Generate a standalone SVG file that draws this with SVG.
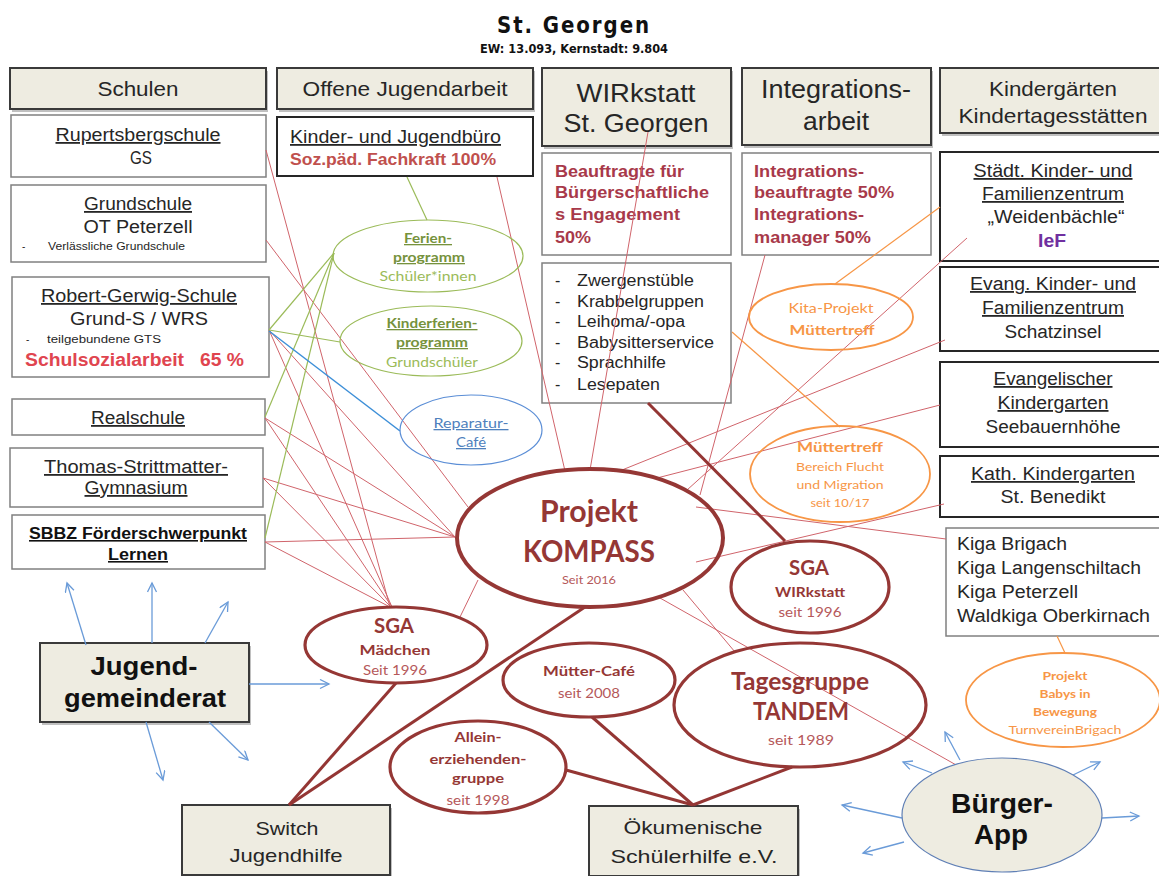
<svg xmlns="http://www.w3.org/2000/svg" width="1159" height="876" viewBox="0 0 1159 876">
<defs>
<marker id="ar" markerUnits="userSpaceOnUse" markerWidth="12" markerHeight="12" refX="10" refY="5" orient="auto">
<path d="M1,0.5 L10,5 L1,9.5" fill="none" stroke="#6A9BD8" stroke-width="1.3"/>
</marker>
<style>
text{font-family:"Liberation Sans",Arial,sans-serif;fill:#262626}
.c{text-anchor:middle}
.u{text-decoration:underline}
.b{font-weight:bold}
.cal{font-family:Lato,"Open Sans",sans-serif}
.hdr{fill:#EEECE1;stroke:#3A3A3A;stroke-width:2}
.sh{fill:#8C8C8C;opacity:.55}
.box{fill:#fff;stroke:#808080;stroke-width:1.5}
.boxd{fill:#fff;stroke:#262626;stroke-width:2}
.er{fill:none;stroke:#953735;stroke-width:3.2}
.eg{fill:none;stroke:#9BBB59;stroke-width:1.2}
.eb{fill:none;stroke:#5B8ED6;stroke-width:1.2}
.eo{fill:none;stroke:#F79646;stroke-width:1.8}
.thin{stroke:#D0646B;stroke-width:1;fill:none}
.thick{stroke:#943634;stroke-width:3;fill:none}
.grn{stroke:#9BBB59;stroke-width:1.2;fill:none}
.blu{stroke:#3D8FD8;stroke-width:1.5;fill:none}
.org{stroke:#F79646;stroke-width:1.2;fill:none}
.arw{stroke:#6A9BD8;stroke-width:1.3;fill:none;marker-end:url(#ar)}
.red{fill:#C0504D}
.dred{fill:#A8394A}
.er-t{fill:#953735}
.er-s{fill:#B5585A}
.gr-t{fill:#76923C}
.gr-s{fill:#9BBB59}
.bl-t{fill:#4F81BD}
.or-t{fill:#F79646}
</style>
</defs>
<rect width="1159" height="876" fill="#fff"/>

<g id="title">
<text x="574" y="33" class="c b" style="font-family:'DejaVu Sans Condensed','DejaVu Sans',sans-serif;font-size:23px;font-weight:900;fill:#111;letter-spacing:2px" textLength="154" lengthAdjust="spacingAndGlyphs">St. Georgen</text>
<text x="574" y="53" class="c b" style="font-family:'DejaVu Sans Condensed','DejaVu Sans',sans-serif;font-size:12.5px;fill:#111" textLength="188" lengthAdjust="spacingAndGlyphs">EW: 13.093, Kernstadt: 9.804</text>
</g>

<!-- header boxes -->
<g id="hdr-schulen">
<rect x="12" y="71" width="256" height="41" class="sh"/>
<rect x="10" y="68" width="256" height="41" class="hdr"/>
<text x="138" y="96" class="c" font-size="21" textLength="81" lengthAdjust="spacingAndGlyphs">Schulen</text>
</g>
<g id="hdr-oja">
<rect x="279" y="71" width="256" height="41" class="sh"/>
<rect x="277" y="68" width="256" height="41" class="hdr"/>
<text x="405" y="96" class="c" font-size="21" textLength="205" lengthAdjust="spacingAndGlyphs">Offene Jugendarbeit</text>
</g>
<g id="hdr-wirkstatt">
<rect x="544" y="71" width="189" height="78" class="sh"/>
<rect x="542" y="68" width="189" height="78" class="hdr"/>
<text x="636" y="102" class="c" font-size="25" textLength="119" lengthAdjust="spacingAndGlyphs">WIRkstatt</text>
<text x="636" y="132" class="c" font-size="25" textLength="145" lengthAdjust="spacingAndGlyphs">St. Georgen</text>
</g>
<g id="hdr-integration">
<rect x="744" y="71" width="189" height="77" class="sh"/>
<rect x="742" y="68" width="189" height="77" class="hdr"/>
<text x="836" y="98" class="c" font-size="25" textLength="150" lengthAdjust="spacingAndGlyphs">Integrations-</text>
<text x="836" y="130" class="c" font-size="25" textLength="66" lengthAdjust="spacingAndGlyphs">arbeit</text>
</g>
<g id="hdr-kiga">
<rect x="942" y="71" width="222" height="65" class="sh"/>
<rect x="940" y="68" width="222" height="65" class="hdr"/>
<text x="1053" y="96" class="c" font-size="21" textLength="128" lengthAdjust="spacingAndGlyphs">Kindergärten</text>
<text x="1053" y="123" class="c" font-size="21" textLength="189" lengthAdjust="spacingAndGlyphs">Kindertagesstätten</text>
</g>

<!-- schools -->
<g id="rupertsberg">
<rect x="11" y="115" width="255" height="62" class="box"/>
<text x="138" y="141" class="c u" font-size="18" textLength="165" lengthAdjust="spacingAndGlyphs">Rupertsbergschule</text>
<text x="141" y="164" class="c" font-size="18" textLength="22" lengthAdjust="spacingAndGlyphs">GS</text>
</g>
<g id="grundschule">
<rect x="11" y="185" width="255" height="77" class="box"/>
<text x="138" y="210" class="c u" font-size="18" textLength="108" lengthAdjust="spacingAndGlyphs">Grundschule</text>
<text x="138" y="233" class="c" font-size="18" textLength="109" lengthAdjust="spacingAndGlyphs">OT Peterzell</text>
<text x="22" y="250" font-size="10">-</text>
<text x="48" y="250" font-size="10" textLength="137" lengthAdjust="spacingAndGlyphs">Verlässliche Grundschule</text>
</g>
<g id="robert-gerwig">
<rect x="12" y="277" width="257" height="100" class="box"/>
<text x="139" y="302" class="c u" font-size="18" textLength="196" lengthAdjust="spacingAndGlyphs">Robert-Gerwig-Schule</text>
<text x="139" y="325" class="c" font-size="18" textLength="138" lengthAdjust="spacingAndGlyphs">Grund-S / WRS</text>
<text x="26" y="343" font-size="10">-</text>
<text x="47" y="343" font-size="10" textLength="114" lengthAdjust="spacingAndGlyphs">teilgebundene  GTS</text>
<text x="25" y="366" class="b" font-size="18" style="fill:#E0454F" textLength="159" lengthAdjust="spacingAndGlyphs">Schulsozialarbeit</text>
<text x="200" y="366" class="b" font-size="18" style="fill:#E0454F" textLength="44" lengthAdjust="spacingAndGlyphs">65 %</text>
</g>
<g id="realschule">
<rect x="12" y="399" width="253" height="36" class="box"/>
<text x="138" y="424" class="c u" font-size="18" textLength="94" lengthAdjust="spacingAndGlyphs">Realschule</text>
</g>
<g id="gymnasium">
<rect x="10" y="448" width="253" height="59" class="box"/>
<text x="136" y="473" class="c u" font-size="18" textLength="184" lengthAdjust="spacingAndGlyphs">Thomas-Strittmatter-</text>
<text x="136" y="494" class="c u" font-size="18" textLength="103" lengthAdjust="spacingAndGlyphs">Gymnasium</text>
</g>
<g id="sbbz">
<rect x="12" y="515" width="253" height="54" class="box"/>
<text x="138" y="539" class="c u b" font-size="16" style="fill:#111" textLength="218" lengthAdjust="spacingAndGlyphs">SBBZ Förderschwerpunkt</text>
<text x="138" y="560" class="c u b" font-size="16" style="fill:#111" textLength="60" lengthAdjust="spacingAndGlyphs">Lernen</text>
</g>

<g id="jugendbuero">
<rect x="277" y="117" width="256" height="59" class="boxd"/>
<text x="290" y="143" class="u" font-size="18" textLength="211" lengthAdjust="spacingAndGlyphs">Kinder- und Jugendbüro</text>
<text x="290" y="165" class="b red" font-size="17" textLength="206" lengthAdjust="spacingAndGlyphs">Soz.päd. Fachkraft 100%</text>
</g>

<g id="beauftragte">
<rect x="542" y="153" width="189" height="102" class="box"/>
<text x="555" y="177" class="b dred" font-size="16" textLength="129" lengthAdjust="spacingAndGlyphs">Beauftragte für</text>
<text x="555" y="198" class="b dred" font-size="16" textLength="154" lengthAdjust="spacingAndGlyphs">Bürgerschaftliche</text>
<text x="555" y="220" class="b dred" font-size="16" textLength="125" lengthAdjust="spacingAndGlyphs">s Engagement</text>
<text x="555" y="243" class="b dred" font-size="16" textLength="36" lengthAdjust="spacingAndGlyphs">50%</text>
</g>
<g id="integrationsbeauftragte">
<rect x="742" y="153" width="189" height="102" class="box"/>
<text x="754" y="177" class="b dred" font-size="16" textLength="110" lengthAdjust="spacingAndGlyphs">Integrations-</text>
<text x="754" y="198" class="b dred" font-size="16" textLength="140" lengthAdjust="spacingAndGlyphs">beauftragte 50%</text>
<text x="754" y="220" class="b dred" font-size="16" textLength="110" lengthAdjust="spacingAndGlyphs">Integrations-</text>
<text x="754" y="243" class="b dred" font-size="16" textLength="117" lengthAdjust="spacingAndGlyphs">manager 50%</text>
</g>
<g id="wirkstatt-angebote">
<rect x="542" y="263" width="189" height="140" class="box"/>
<text x="555" y="286" font-size="16">-</text><text x="577" y="286" font-size="16" textLength="117" lengthAdjust="spacingAndGlyphs">Zwergenstüble</text>
<text x="555" y="307" font-size="16">-</text><text x="577" y="307" font-size="16" textLength="127" lengthAdjust="spacingAndGlyphs">Krabbelgruppen</text>
<text x="555" y="327" font-size="16">-</text><text x="577" y="327" font-size="16" textLength="108" lengthAdjust="spacingAndGlyphs">Leihoma/-opa</text>
<text x="555" y="348" font-size="16">-</text><text x="577" y="348" font-size="16" textLength="137" lengthAdjust="spacingAndGlyphs">Babysitterservice</text>
<text x="555" y="368" font-size="16">-</text><text x="577" y="368" font-size="16" textLength="89" lengthAdjust="spacingAndGlyphs">Sprachhilfe</text>
<text x="555" y="390" font-size="16">-</text><text x="577" y="390" font-size="16" textLength="83" lengthAdjust="spacingAndGlyphs">Lesepaten</text>
</g>

<g id="weidenbaechle">
<rect x="940" y="152" width="222" height="109" class="boxd"/>
<text x="1053" y="177" class="c u" font-size="18" textLength="159" lengthAdjust="spacingAndGlyphs">Städt. Kinder- und</text>
<text x="1053" y="200" class="c u" font-size="18" textLength="142" lengthAdjust="spacingAndGlyphs">Familienzentrum</text>
<text x="1056" y="223" class="c" font-size="18" textLength="137" lengthAdjust="spacingAndGlyphs">„Weidenbächle“</text>
<text x="1052" y="247" class="c b" font-size="18" style="fill:#7030A0" textLength="28" lengthAdjust="spacingAndGlyphs">IeF</text>
</g>
<g id="schatzinsel">
<rect x="940" y="267" width="222" height="84" class="boxd"/>
<text x="1053" y="290" class="c u" font-size="18" textLength="166" lengthAdjust="spacingAndGlyphs">Evang.  Kinder- und</text>
<text x="1053" y="314" class="c u" font-size="18" textLength="142" lengthAdjust="spacingAndGlyphs">Familienzentrum</text>
<text x="1053" y="338" class="c" font-size="18" textLength="97" lengthAdjust="spacingAndGlyphs">Schatzinsel</text>
</g>
<g id="seebauernhoehe">
<rect x="940" y="362" width="222" height="85" class="boxd"/>
<text x="1053" y="385" class="c u" font-size="18" textLength="119" lengthAdjust="spacingAndGlyphs">Evangelischer</text>
<text x="1053" y="409" class="c u" font-size="18" textLength="111" lengthAdjust="spacingAndGlyphs">Kindergarten</text>
<text x="1053" y="433" class="c" font-size="18" textLength="135" lengthAdjust="spacingAndGlyphs">Seebauernhöhe</text>
</g>
<g id="benedikt">
<rect x="940" y="456" width="222" height="61" class="boxd"/>
<text x="1053" y="480" class="c u" font-size="18" textLength="164" lengthAdjust="spacingAndGlyphs">Kath. Kindergarten</text>
<text x="1053" y="503" class="c" font-size="18" textLength="105" lengthAdjust="spacingAndGlyphs">St. Benedikt</text>
</g>
<g id="kigas">
<rect x="946" y="528" width="216" height="108" class="box"/>
<text x="957" y="550" font-size="18" textLength="110" lengthAdjust="spacingAndGlyphs">Kiga Brigach</text>
<text x="957" y="574" font-size="18" textLength="184" lengthAdjust="spacingAndGlyphs">Kiga Langenschiltach</text>
<text x="957" y="598" font-size="18" textLength="121" lengthAdjust="spacingAndGlyphs">Kiga Peterzell</text>
<text x="957" y="622" font-size="18" textLength="193" lengthAdjust="spacingAndGlyphs">Waldkiga Oberkirnach</text>
</g>

<g id="jugendgemeinderat">
<rect x="42" y="646" width="209" height="79" class="sh"/>
<rect x="40" y="643" width="209" height="79" class="hdr"/>
<text x="144" y="675" class="c b" font-size="25" style="fill:#111" textLength="107" lengthAdjust="spacingAndGlyphs">Jugend-</text>
<text x="145" y="707" class="c b" font-size="25" style="fill:#111" textLength="162" lengthAdjust="spacingAndGlyphs">gemeinderat</text>
</g>
<g id="switch">
<rect x="184" y="808" width="208" height="70" class="sh"/>
<rect x="182" y="805" width="208" height="70" class="hdr"/>
<text x="287" y="835" class="c" font-size="19" textLength="63" lengthAdjust="spacingAndGlyphs">Switch</text>
<text x="286" y="862" class="c" font-size="19" textLength="113" lengthAdjust="spacingAndGlyphs">Jugendhilfe</text>
</g>
<g id="oekumenische">
<rect x="591" y="809" width="209" height="70" class="sh"/>
<rect x="589" y="806" width="209" height="70" class="hdr"/>
<text x="693" y="834" class="c" font-size="19" textLength="139" lengthAdjust="spacingAndGlyphs">Ökumenische</text>
<text x="694" y="863" class="c" font-size="19" textLength="167" lengthAdjust="spacingAndGlyphs">Schülerhilfe  e.V.</text>
</g>

<!-- connectors -->
<g id="connectors">
<line x1="266" y1="150" x2="390" y2="607" class="thin"/>
<line x1="266" y1="240" x2="468" y2="507" class="thin"/>
<line x1="269" y1="330" x2="455" y2="537" class="thin"/>
<line x1="269" y1="330" x2="392" y2="607" class="thin"/>
<line x1="265" y1="418" x2="455" y2="537" class="thin"/>
<line x1="265" y1="418" x2="392" y2="607" class="thin"/>
<line x1="263" y1="478" x2="455" y2="537" class="thin"/>
<line x1="263" y1="478" x2="391" y2="607" class="thin"/>
<line x1="265" y1="542" x2="455" y2="537" class="thin"/>
<line x1="265" y1="542" x2="390" y2="607" class="thin"/>
<line x1="497" y1="177" x2="565" y2="471" class="thin"/>
<line x1="648" y1="132" x2="590" y2="470" class="thin"/>
<line x1="765" y1="255" x2="700" y2="495" class="thin"/>
<line x1="967" y1="238" x2="687" y2="490" class="thin"/>
<line x1="945" y1="340" x2="622" y2="470" class="thin"/>
<line x1="940" y1="405" x2="657" y2="478" class="thin"/>
<line x1="944" y1="504" x2="696" y2="562" class="thin"/>
<line x1="946" y1="539" x2="696" y2="507" class="thin"/>
<line x1="660" y1="598" x2="958" y2="766" class="thin"/>
<line x1="683" y1="590" x2="735" y2="652" class="thin"/>
<line x1="478" y1="580" x2="460" y2="617" class="thin"/>

<line x1="269" y1="330" x2="334" y2="253" class="grn"/>
<line x1="269" y1="330" x2="340" y2="342" class="grn"/>
<line x1="265" y1="417" x2="334" y2="253" class="grn"/>
<line x1="265" y1="538" x2="334" y2="253" class="grn"/>
<line x1="407" y1="177" x2="427" y2="220" class="grn"/>

<line x1="269" y1="331" x2="400" y2="431" class="blu"/>

<line x1="835" y1="284" x2="940" y2="207" class="org"/>
<line x1="732" y1="332" x2="840" y2="427" class="org"/>
<line x1="1057" y1="636" x2="1065" y2="653" class="org"/>

<line x1="648" y1="403" x2="785" y2="541" class="thick"/>
<line x1="289" y1="805" x2="396" y2="683" class="thick"/>
<line x1="289" y1="805" x2="585" y2="607" class="thick"/>
<line x1="693" y1="805" x2="566" y2="770" class="thick"/>
<line x1="693" y1="805" x2="592" y2="717" class="thick"/>
<line x1="693" y1="805" x2="792" y2="767" class="thick"/>

<line x1="86" y1="645" x2="67" y2="583" class="arw"/>
<line x1="152" y1="643" x2="152" y2="583" class="arw"/>
<line x1="205" y1="643" x2="228" y2="602" class="arw"/>
<line x1="249" y1="684" x2="329" y2="684" class="arw"/>
<line x1="209" y1="722" x2="248" y2="760" class="arw"/>
<line x1="146" y1="722" x2="163" y2="780" class="arw"/>

<line x1="960" y1="760" x2="945" y2="732" class="arw"/>
<line x1="932" y1="773" x2="903" y2="762" class="arw"/>
<line x1="902" y1="818" x2="842" y2="805" class="arw"/>
<line x1="904" y1="842" x2="863" y2="853" class="arw"/>
<line x1="1073" y1="775" x2="1100" y2="762" class="arw"/>
<line x1="1102" y1="818" x2="1139" y2="816" class="arw"/>
</g>

<!-- ellipse nodes -->
<g id="ferienprogramm">
<ellipse cx="428" cy="256" rx="95" ry="36" class="eg"/>
<text x="428" y="243" class="c cal b u gr-t" font-size="13" textLength="48" lengthAdjust="spacingAndGlyphs">Ferien-</text>
<text x="429" y="262" class="c cal b u gr-t" font-size="13" textLength="72" lengthAdjust="spacingAndGlyphs">programm</text>
<text x="428" y="281" class="c cal gr-s" font-size="13" textLength="97" lengthAdjust="spacingAndGlyphs">Schüler*innen</text>
</g>
<g id="kinderferienprogramm">
<ellipse cx="431" cy="341" rx="91" ry="35" class="eg"/>
<text x="432" y="328" class="c cal b u gr-t" font-size="13" textLength="91" lengthAdjust="spacingAndGlyphs">Kinderferien-</text>
<text x="432" y="347" class="c cal b u gr-t" font-size="13" textLength="72" lengthAdjust="spacingAndGlyphs">programm</text>
<text x="432" y="367" class="c cal gr-s" font-size="13" textLength="92" lengthAdjust="spacingAndGlyphs">Grundschüler</text>
</g>
<g id="reparaturcafe">
<ellipse cx="471" cy="430" rx="71" ry="35" class="eb"/>
<text x="471" y="428" class="c cal u bl-t" font-size="13" textLength="75" lengthAdjust="spacingAndGlyphs">Reparatur-</text>
<text x="471" y="447" class="c cal u bl-t" font-size="13" textLength="30" lengthAdjust="spacingAndGlyphs">Café</text>
</g>
<g id="kita-projekt">
<ellipse cx="831" cy="317" rx="82" ry="33" class="eo"/>
<text x="831" y="313" class="c cal or-t" font-size="13" textLength="85" lengthAdjust="spacingAndGlyphs">Kita-Projekt</text>
<text x="832" y="335" class="c cal b or-t" font-size="13" textLength="85" lengthAdjust="spacingAndGlyphs">Müttertreff</text>
</g>
<g id="muettertreff">
<ellipse cx="840" cy="474" rx="90" ry="48" class="eo"/>
<text x="840" y="452" class="c cal b or-t" font-size="14" textLength="86" lengthAdjust="spacingAndGlyphs">Müttertreff</text>
<text x="840" y="471" class="c cal or-t" font-size="11" textLength="88" lengthAdjust="spacingAndGlyphs">Bereich Flucht</text>
<text x="840" y="489" class="c cal or-t" font-size="11" textLength="87" lengthAdjust="spacingAndGlyphs">und Migration</text>
<text x="840" y="507" class="c cal or-t" font-size="11" textLength="59" lengthAdjust="spacingAndGlyphs">seit 10/17</text>
</g>
<g id="babys">
<ellipse cx="1063" cy="700" rx="97" ry="47" class="eo"/>
<text x="1065" y="680" class="c cal b or-t" font-size="12" textLength="45" lengthAdjust="spacingAndGlyphs">Projekt</text>
<text x="1065" y="698" class="c cal b or-t" font-size="12" textLength="51" lengthAdjust="spacingAndGlyphs">Babys in</text>
<text x="1065" y="716" class="c cal b or-t" font-size="12" textLength="64" lengthAdjust="spacingAndGlyphs">Bewegung</text>
<text x="1065" y="734" class="c cal or-t" font-size="12" textLength="113" lengthAdjust="spacingAndGlyphs">TurnvereinBrigach</text>
</g>
<g id="kompass">
<ellipse cx="590" cy="538" rx="133" ry="69" class="er" style="stroke-width:4"/>
<text x="589" y="522" class="c cal b er-t" font-size="30" textLength="98" lengthAdjust="spacingAndGlyphs">Projekt</text>
<text x="589" y="562" class="c cal b er-t" font-size="30" textLength="132" lengthAdjust="spacingAndGlyphs">KOMPASS</text>
<text x="589" y="584" class="c cal er-s" font-size="11" textLength="54" lengthAdjust="spacingAndGlyphs">Seit 2016</text>
</g>
<g id="sga-wirkstatt">
<ellipse cx="810" cy="587" rx="79" ry="46" class="er"/>
<text x="809" y="575" class="c cal b er-t" font-size="20" textLength="40" lengthAdjust="spacingAndGlyphs">SGA</text>
<text x="810" y="597" class="c cal b er-t" font-size="13" textLength="70" lengthAdjust="spacingAndGlyphs">WIRkstatt</text>
<text x="810" y="617" class="c cal er-s" font-size="13" textLength="63" lengthAdjust="spacingAndGlyphs">seit 1996</text>
</g>
<g id="sga-maedchen">
<ellipse cx="396" cy="645" rx="91" ry="38" class="er"/>
<text x="394" y="633" class="c cal b er-t" font-size="20" textLength="40" lengthAdjust="spacingAndGlyphs">SGA</text>
<text x="395" y="655" class="c cal b er-t" font-size="14" textLength="71" lengthAdjust="spacingAndGlyphs">Mädchen</text>
<text x="395" y="675" class="c cal er-s" font-size="14" textLength="64" lengthAdjust="spacingAndGlyphs">Seit 1996</text>
</g>
<g id="muetter-cafe">
<ellipse cx="589" cy="680" rx="86" ry="37" class="er"/>
<text x="589" y="676" class="c cal b er-t" font-size="14" textLength="92" lengthAdjust="spacingAndGlyphs">Mütter-Café</text>
<text x="589" y="698" class="c cal er-s" font-size="14" textLength="62" lengthAdjust="spacingAndGlyphs">seit 2008</text>
</g>
<g id="tandem">
<ellipse cx="800" cy="705" rx="126" ry="62" class="er"/>
<text x="800" y="690" class="c cal b er-t" font-size="24" textLength="138" lengthAdjust="spacingAndGlyphs">Tagesgruppe</text>
<text x="801" y="720" class="c cal b er-t" font-size="24" textLength="96" lengthAdjust="spacingAndGlyphs">TANDEM</text>
<text x="801" y="745" class="c cal er-s" font-size="14" textLength="66" lengthAdjust="spacingAndGlyphs">seit 1989</text>
</g>
<g id="alleinerziehende">
<ellipse cx="478" cy="767" rx="88" ry="46" class="er"/>
<text x="478" y="742" class="c cal b er-t" font-size="14" textLength="47" lengthAdjust="spacingAndGlyphs">Allein-</text>
<text x="478" y="764" class="c cal b er-t" font-size="14" textLength="97" lengthAdjust="spacingAndGlyphs">erziehenden-</text>
<text x="478" y="783" class="c cal b er-t" font-size="14" textLength="52" lengthAdjust="spacingAndGlyphs">gruppe</text>
<text x="478" y="805" class="c cal er-s" font-size="14" textLength="63" lengthAdjust="spacingAndGlyphs">seit 1998</text>
</g>
<g id="buerger-app">
<ellipse cx="1002" cy="815" rx="100" ry="57" style="fill:#EEECE1;stroke:#5F7FB5;stroke-width:1.2"/>
<text x="1002" y="813" class="c b" font-size="27" style="fill:#111" textLength="102" lengthAdjust="spacingAndGlyphs">Bürger-</text>
<text x="1001" y="844" class="c b" font-size="27" style="fill:#111" textLength="54" lengthAdjust="spacingAndGlyphs">App</text>
</g>
</svg>
